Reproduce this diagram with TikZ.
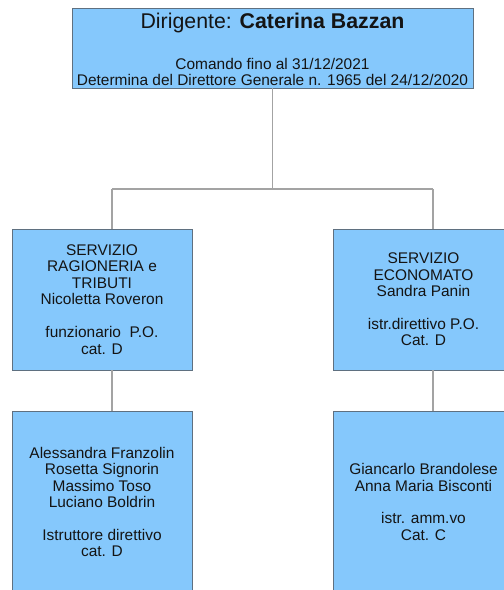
\documentclass[tikz,border=0pt]{standalone}
\usepackage{fontspec}
\setmainfont{Liberation Sans}
\usetikzlibrary{calc}
\definecolor{boxfill}{HTML}{85C8FC}
\definecolor{boxline}{HTML}{5F7080}
\definecolor{connline}{HTML}{A3A3A3}
\definecolor{textcol}{HTML}{141414}
\begin{document}
\begin{tikzpicture}[x=1bp,y=-1bp,
  box/.style={draw=boxline, line width=0.9bp, fill=boxfill, align=center,
    inner sep=0pt, text=textcol, font=\fontsize{15.5}{16.5}\selectfont},
  conn/.style={draw=connline, line width=1.2bp}]
\useasboundingbox (0,0) rectangle (504,590);
\node[box, minimum width=401bp, minimum height=80bp] (top) at (272.5,48)
  {\rule{0pt}{18.5bp}{\fontsize{21.4}{24}\selectfont Dirigente: \textbf{Caterina Bazzan}}\\[24.7bp]
   Comando fino al 31/12/2021\\
   Determina del Direttore Generale n. 1965 del 24/12/2020};
\node[box, minimum width=180bp, minimum height=141bp] (mL) at (102,299.5)
  {SERVIZIO\\RAGIONERIA e\\TRIBUTI\\Nicoletta Roveron\\[16.5bp]funzionario\ \ P.O.\\cat. D};
\node[box, minimum width=181bp, minimum height=141bp] (mR) at (423.5,299.5)
  {SERVIZIO\\ECONOMATO\\Sandra Panin\\[16.5bp]istr.direttivo P.O.\\Cat. D};
\node[box, minimum width=180bp, minimum height=182bp] (bL) at (102,502)
  {Alessandra Franzolin\\Rosetta Signorin\\Massimo Toso\\Luciano Boldrin\\[16.5bp]Istruttore direttivo\\cat. D};
\node[box, minimum width=181bp, minimum height=182bp] (bR) at (423.5,502)
  {Giancarlo Brandolese\\Anna Maria Bisconti\\[16.5bp]istr. amm.vo\\Cat. C};
\coordinate (bus) at (272.5,189);
\coordinate (jL) at (112,189);
\coordinate (jR) at (433,189);
\draw[conn] (top.south) -- (bus);
\draw[conn] (jL) -- (jR);
\draw[conn] (jL) -- (jL |- mL.north);
\draw[conn] (jR) -- (jR |- mR.north);
\draw[conn] (jL |- mL.south) -- (jL |- bL.north);
\draw[conn] (jR |- mR.south) -- (jR |- bR.north);
\end{tikzpicture}
\end{document}
